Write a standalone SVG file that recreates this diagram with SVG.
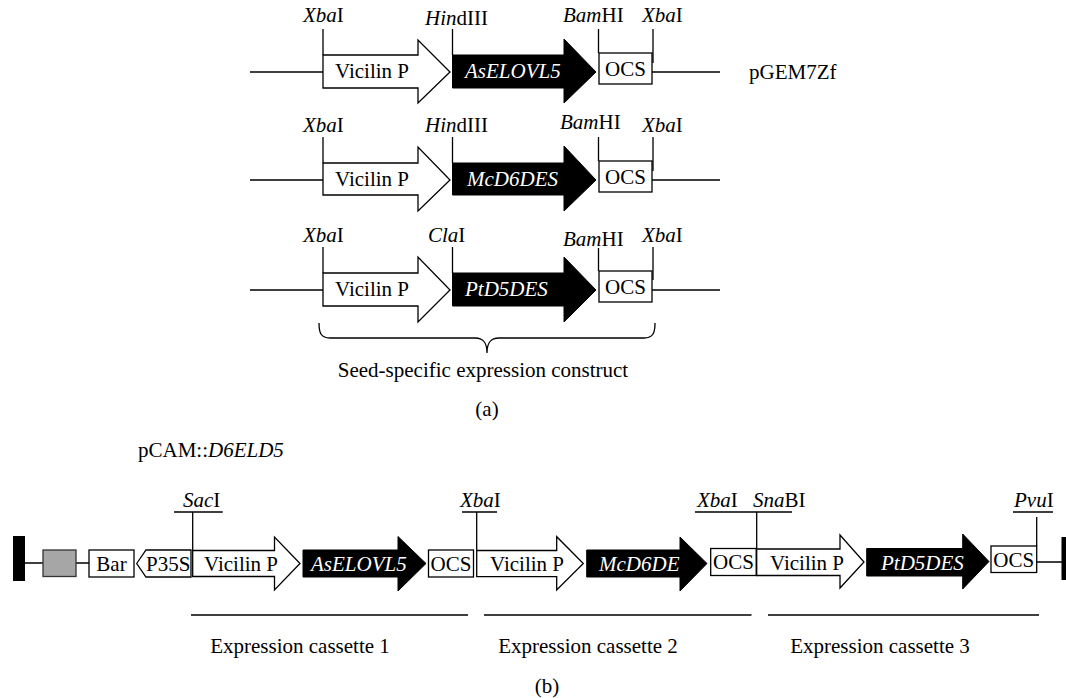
<svg xmlns="http://www.w3.org/2000/svg" width="1066" height="698" viewBox="0 0 1066 698">
<style>
text{font-family:"Liberation Serif","Times New Roman",serif;font-size:21px;fill:#000}
.i{font-style:italic}
.w{fill:#fff;font-style:italic}
.c{text-anchor:middle}
.ln{stroke:#000;stroke-width:1.3;fill:none}
.box{fill:#fff;stroke:#000;stroke-width:1.3}
.blk{fill:#000;stroke:#000;stroke-width:1}
.gray{fill:#a6a6a6;stroke:#333;stroke-width:1.3}
</style>
<rect width="1066" height="698" fill="#fff"/>

<g id="connectors" class="ln">
  <path d="M250,72H323M652,72H720M323,29V55M452.5,29V55M598.5,29V53M653,29V63"/>
  <path d="M250,180H323M652,180H720M323,137V163M452.5,137V163M598.5,137V161M653,137V171"/>
  <path d="M250,290H323M652,290H720M323,247V273M452.5,247V273M598.5,248V271M653,247V280"/>
  <path d="M319,323C319,333 321,338 330,338L475,338C483,338 487,342 487,353C487,342 491,338 499,338L644,338C653,338 655,333 655,323"/>
  <path d="M25,563H43M76,563H89M1036.7,562H1062"/>
  <path d="M174,512H222.7M192.7,512V550.5"/>
  <path d="M462,512H497M476.7,512V550.5"/>
  <path d="M695,512H792M756.7,512V549"/>
  <path d="M1013,512H1053M1036.7,517V546"/>
  <path d="M191,615H468M484,615H751.5M768,615H1039"/>
</g>

<g id="row1">
  <g id="r1-vicilin"><polygon class="box" points="323,55 418,55 418,40 450,72 418,103 418,88 323,88"/><text x="335" y="78">Vicilin P</text></g>
  <g id="r1-gene"><polygon class="blk" points="452.5,55 564,55 564,39 596,72 564,103 564,88 452.5,88"/><text class="w" x="465" y="78">AsELOVL5</text></g>
  <g id="r1-ocs"><rect class="box" x="599" y="53" width="53" height="31"/><text class="c" x="625.5" y="76">OCS</text></g>
  <text x="303" y="22"><tspan class="i">Xba</tspan>I</text>
  <text x="425" y="25"><tspan class="i">Hin</tspan>dIII</text>
  <text x="563" y="22"><tspan class="i">Bam</tspan>HI</text>
  <text x="642" y="22"><tspan class="i">Xba</tspan>I</text>
  <text x="749" y="79">pGEM7Zf</text>
</g>
<g id="row2">
  <g id="r2-vicilin"><polygon class="box" points="323,163 418,163 418,147 450,180 418,211 418,195 323,195"/><text x="335" y="186">Vicilin P</text></g>
  <g id="r2-gene"><polygon class="blk" points="452.5,163 564,163 564,146 596,180 564,211 564,195 452.5,195"/><text class="w" x="467" y="186">McD6DES</text></g>
  <g id="r2-ocs"><rect class="box" x="599" y="161" width="53" height="31"/><text class="c" x="625.5" y="184">OCS</text></g>
  <text x="303" y="132"><tspan class="i">Xba</tspan>I</text>
  <text x="425" y="132"><tspan class="i">Hin</tspan>dIII</text>
  <text x="560" y="128.5"><tspan class="i">Bam</tspan>HI</text>
  <text x="642" y="132"><tspan class="i">Xba</tspan>I</text>
</g>
<g id="row3">
  <g id="r3-vicilin"><polygon class="box" points="323,273 418,273 418,257 450,290 418,322 418,306 323,306"/><text x="335" y="296">Vicilin P</text></g>
  <g id="r3-gene"><polygon class="blk" points="452.5,273 564,273 564,257 596,290 564,322 564,306 452.5,306"/><text class="w" x="465" y="296">PtD5DES</text></g>
  <g id="r3-ocs"><rect class="box" x="599" y="271" width="53" height="31"/><text class="c" x="625.5" y="294">OCS</text></g>
  <text x="303" y="242"><tspan class="i">Xba</tspan>I</text>
  <text x="428" y="242"><tspan class="i">Cla</tspan>I</text>
  <text x="563" y="246"><tspan class="i">Bam</tspan>HI</text>
  <text x="642" y="242"><tspan class="i">Xba</tspan>I</text>
</g>
<text class="c" x="483" y="377">Seed-specific expression construct</text>
<text class="c" x="487" y="416">(a)</text>

<text x="138" y="457">pCAM::<tspan class="i">D6ELD5</tspan></text>
<g id="b-leftborder"><rect x="13" y="536" width="12" height="45" fill="#000"/></g>
<g id="b-gray"><rect class="gray" x="43" y="550" width="33" height="26.5"/></g>
<g id="b-bar"><rect class="box" x="89" y="550" width="45" height="27"/><text class="c" x="111.5" y="570.5">Bar</text></g>
<g id="b-p35s"><polygon class="box" points="136.7,563.5 146,550 191,550 191,577 146,577"/><text x="146" y="570.5">P35S</text></g>
<g id="b-vic1"><polygon class="box" points="192.7,550.5 274.5,550.5 274.5,537 300,563.5 274.5,590 274.5,576.5 192.7,576.5"/><text x="204" y="570.5">Vicilin P</text></g>
<g id="b-gene1"><polygon class="blk" points="303,550 398,550 398,536.5 426,563.5 398,591 398,577 303,577"/><text class="w" x="311" y="570.5">AsELOVL5</text></g>
<g id="b-ocs1"><rect class="box" x="428.5" y="550" width="45" height="27"/><text class="c" x="451" y="570.5">OCS</text></g>
<g id="b-vic2"><polygon class="box" points="476.7,550.5 556.7,550.5 556.7,536.7 583.3,563.5 556.7,590 556.7,576.7 476.7,576.7"/><text x="490" y="570.5">Vicilin P</text></g>
<g id="b-gene2"><polygon class="blk" points="586.7,550 680,550 680,537 707,563.5 680,591 680,577 586.7,577"/><text class="w" x="599" y="570.5">McD6DE</text></g>
<g id="b-ocs2"><rect class="box" x="710.7" y="548.5" width="45.5" height="27"/><text class="c" x="733.5" y="569">OCS</text></g>
<g id="b-vic3"><polygon class="box" points="756.7,549 840,549 840,535 864,562 840,588 840,575.5 756.7,575.5"/><text x="770" y="569.5">Vicilin P</text></g>
<g id="b-gene3"><polygon class="blk" points="866.7,548.5 962.7,548.5 962.7,534 989,561.5 962.7,589 962.7,576 866.7,576"/><text class="w" x="881" y="569.5">PtD5DES</text></g>
<g id="b-ocs3"><rect class="box" x="991" y="546" width="45.7" height="26.5"/><text class="c" x="1013.8" y="567">OCS</text></g>
<g id="b-rightborder"><rect x="1061.5" y="537" width="10" height="43" fill="#000"/></g>
<text x="183" y="507"><tspan class="i">Sac</tspan>I</text>
<text x="460" y="507"><tspan class="i">Xba</tspan>I</text>
<text x="697" y="507"><tspan class="i">Xba</tspan>I</text>
<text x="753" y="507"><tspan class="i">Sna</tspan>BI</text>
<text x="1014" y="507"><tspan class="i">Pvu</tspan>I</text>
<text class="c" x="300" y="653">Expression cassette 1</text>
<text class="c" x="588" y="653">Expression cassette 2</text>
<text class="c" x="880" y="653">Expression cassette 3</text>
<text class="c" x="547" y="693">(b)</text>
</svg>
